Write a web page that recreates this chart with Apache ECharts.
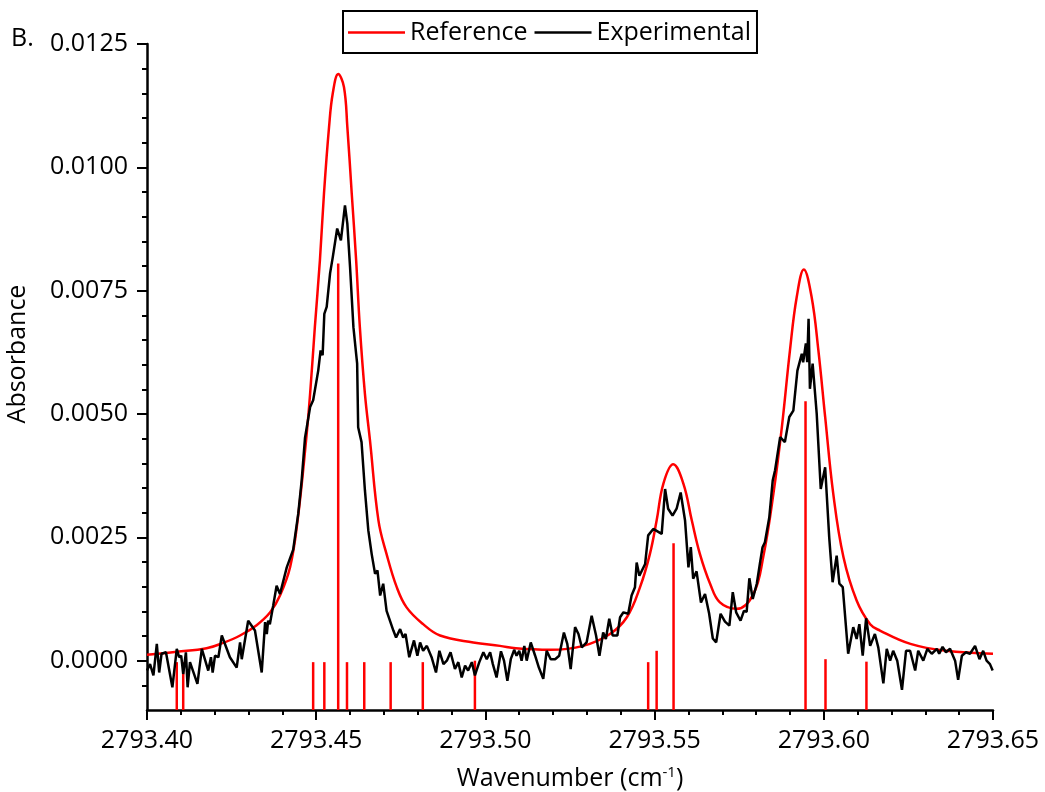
<!DOCTYPE html>
<html>
<head>
<meta charset="utf-8">
<script src="https://cdn.jsdelivr.net/npm/echarts@6/dist/echarts.min.js"></script>
<style>
html,body{margin:0;padding:0;background:#fff;}
#chart{width:1045px;height:792px;}
</style>
</head>
<body>
<div id="chart"></div>
<script>
// ---- Data ----
const xTicks = [2793.40, 2793.45, 2793.50, 2793.55, 2793.60, 2793.65];
const xMinorTicks = [2793.41, 2793.42, 2793.43, 2793.44, 2793.46, 2793.47, 2793.48, 2793.49,
  2793.51, 2793.52, 2793.53, 2793.54, 2793.56, 2793.57, 2793.58, 2793.59,
  2793.61, 2793.62, 2793.63, 2793.64];
const yTicks = [0.0000, 0.0025, 0.0050, 0.0075, 0.0100, 0.0125];
const yMinorTicks = [-0.0005, 0.0005, 0.0010, 0.0015, 0.0020, 0.0030, 0.0035, 0.0040, 0.0045,
  0.0055, 0.0060, 0.0065, 0.0070, 0.0080, 0.0085, 0.0090, 0.0095,
  0.0105, 0.0110, 0.0115, 0.0120];

// Reference (simulated) spectrum [wavenumber, absorbance]
const referenceCurve = [
  [2793.4000, 0.00012], [2793.4088, 0.00018], [2793.4176, 0.00025], [2793.4225, 0.00036],
  [2793.4275, 0.00051], [2793.4324, 0.00072], [2793.4364, 0.00098], [2793.4393, 0.00132],
  [2793.4423, 0.00190], [2793.4445, 0.00284], [2793.4470, 0.00446], [2793.4482, 0.00541],
  [2793.4496, 0.00676], [2793.4511, 0.00812], [2793.4523, 0.00947], [2793.4538, 0.01082],
  [2793.4549, 0.01150], [2793.4565, 0.01189], [2793.4582, 0.01163], [2793.4592, 0.01082],
  [2793.4605, 0.00947], [2793.4618, 0.00812], [2793.4629, 0.00676], [2793.4644, 0.00541],
  [2793.4659, 0.00446], [2793.4684, 0.00284], [2793.4708, 0.00216], [2793.4738, 0.00149],
  [2793.4767, 0.00108], [2793.4816, 0.00074], [2793.4866, 0.00051], [2793.4964, 0.00037],
  [2793.5043, 0.00030], [2793.5090, 0.00025], [2793.5191, 0.00022], [2793.5289, 0.00030],
  [2793.5368, 0.00054], [2793.5418, 0.00088], [2793.5457, 0.00149], [2793.5486, 0.00216],
  [2793.5506, 0.00284], [2793.5526, 0.00359], [2793.5555, 0.00398], [2793.5585, 0.00359],
  [2793.5610, 0.00284], [2793.5634, 0.00216], [2793.5664, 0.00156], [2793.5693, 0.00118],
  [2793.5743, 0.00105], [2793.5792, 0.00135], [2793.5821, 0.00210], [2793.5851, 0.00338],
  [2793.5876, 0.00473], [2793.5900, 0.00629], [2793.5920, 0.00737], [2793.5941, 0.00793],
  [2793.5964, 0.00737], [2793.5984, 0.00629], [2793.6004, 0.00494], [2793.6028, 0.00338],
  [2793.6058, 0.00210], [2793.6097, 0.00122], [2793.6137, 0.00074], [2793.6166, 0.00061],
  [2793.6256, 0.00034], [2793.6361, 0.00020], [2793.6500, 0.00014]
];

// Experimental spectrum [wavenumber, absorbance]
const experimentalCurve = [
  [2793.4000, -0.00020], [2793.4009, -0.00007], [2793.4019, -0.00030], [2793.4029, 0.00034],
  [2793.4036, -0.00024], [2793.4043, 0.00014], [2793.4056, 0.00017], [2793.4075, -0.00054],
  [2793.4088, 0.00024], [2793.4095, 0.00007], [2793.4101, 0.00010], [2793.4107, -0.00027],
  [2793.4115, 0.00017], [2793.4120, -0.00054], [2793.4127, -0.00003], [2793.4149, -0.00047],
  [2793.4162, 0.00024], [2793.4181, -0.00020], [2793.4189, 0.00007], [2793.4194, -0.00024],
  [2793.4201, 0.00010], [2793.4211, 0.00007], [2793.4221, 0.00051], [2793.4245, 0.00007],
  [2793.4265, -0.00014], [2793.4275, 0.00037], [2793.4280, 0.00003], [2793.4299, 0.00081],
  [2793.4319, 0.00061], [2793.4339, -0.00024], [2793.4349, 0.00078], [2793.4354, 0.00054],
  [2793.4358, 0.00081], [2793.4363, 0.00074], [2793.4373, 0.00112], [2793.4383, 0.00152],
  [2793.4393, 0.00135], [2793.4413, 0.00189], [2793.4432, 0.00225], [2793.4447, 0.00298],
  [2793.4457, 0.00365], [2793.4467, 0.00452], [2793.4482, 0.00514], [2793.4491, 0.00528],
  [2793.4506, 0.00588], [2793.4513, 0.00629], [2793.4519, 0.00619], [2793.4524, 0.00703],
  [2793.4531, 0.00717], [2793.4541, 0.00785], [2793.4549, 0.00818], [2793.4562, 0.00876],
  [2793.4573, 0.00852], [2793.4585, 0.00923], [2793.4592, 0.00886], [2793.4600, 0.00798],
  [2793.4610, 0.00676], [2793.4618, 0.00622], [2793.4621, 0.00602], [2793.4624, 0.00473],
  [2793.4634, 0.00443], [2793.4644, 0.00345], [2793.4654, 0.00264], [2793.4664, 0.00216],
  [2793.4674, 0.00176], [2793.4681, 0.00183], [2793.4689, 0.00132], [2793.4698, 0.00156],
  [2793.4708, 0.00101], [2793.4728, 0.00061], [2793.4736, 0.00047], [2793.4748, 0.00064],
  [2793.4757, 0.00047], [2793.4764, 0.00054], [2793.4775, 0.00007], [2793.4789, 0.00041],
  [2793.4799, 0.00010], [2793.4807, 0.00037], [2793.4816, 0.00020], [2793.4827, 0.00030],
  [2793.4841, 0.00007], [2793.4854, -0.00024], [2793.4864, 0.00020], [2793.4876, -0.00007],
  [2793.4886, 0.00000], [2793.4897, 0.00017], [2793.4910, -0.00017], [2793.4920, -0.00003],
  [2793.4930, -0.00034], [2793.4940, -0.00010], [2793.4949, -0.00020], [2793.4960, -0.00003],
  [2793.4969, -0.00030], [2793.4982, -0.00003], [2793.4994, 0.00017], [2793.5004, 0.00003],
  [2793.5014, 0.00017], [2793.5022, -0.00007], [2793.5033, -0.00034], [2793.5046, 0.00019],
  [2793.5055, 0.00000], [2793.5065, -0.00041], [2793.5075, 0.00003], [2793.5085, 0.00022],
  [2793.5092, 0.00010], [2793.5100, 0.00020], [2793.5107, 0.00000], [2793.5115, 0.00030],
  [2793.5122, 0.00000], [2793.5134, 0.00037], [2793.5147, 0.00010], [2793.5158, -0.00014],
  [2793.5171, -0.00037], [2793.5181, 0.00020], [2793.5193, 0.00003], [2793.5206, 0.00003],
  [2793.5218, 0.00010], [2793.5232, 0.00057], [2793.5242, 0.00034], [2793.5252, -0.00017],
  [2793.5265, 0.00068], [2793.5275, 0.00054], [2793.5285, 0.00027], [2793.5299, 0.00037],
  [2793.5314, 0.00091], [2793.5327, 0.00051], [2793.5337, 0.00010], [2793.5348, 0.00057],
  [2793.5356, 0.00044], [2793.5366, 0.00085], [2793.5376, 0.00051], [2793.5390, 0.00051],
  [2793.5398, 0.00088], [2793.5408, 0.00098], [2793.5422, 0.00095], [2793.5432, 0.00132],
  [2793.5442, 0.00149], [2793.5447, 0.00199], [2793.5455, 0.00172], [2793.5472, 0.00196],
  [2793.5481, 0.00254], [2793.5496, 0.00267], [2793.5521, 0.00257], [2793.5531, 0.00348],
  [2793.5540, 0.00308], [2793.5553, 0.00294], [2793.5565, 0.00308], [2793.5577, 0.00341],
  [2793.5590, 0.00284], [2793.5600, 0.00189], [2793.5607, 0.00230], [2793.5614, 0.00166],
  [2793.5624, 0.00181], [2793.5637, 0.00118], [2793.5649, 0.00135], [2793.5661, 0.00096],
  [2793.5672, 0.00045], [2793.5682, 0.00037], [2793.5695, 0.00095], [2793.5708, 0.00079],
  [2793.5721, 0.00071], [2793.5731, 0.00139], [2793.5741, 0.00098], [2793.5754, 0.00081],
  [2793.5764, 0.00101], [2793.5772, 0.00099], [2793.5780, 0.00167], [2793.5790, 0.00125],
  [2793.5802, 0.00156], [2793.5811, 0.00196], [2793.5819, 0.00230], [2793.5826, 0.00240],
  [2793.5839, 0.00291], [2793.5849, 0.00365], [2793.5856, 0.00386], [2793.5871, 0.00453],
  [2793.5885, 0.00443], [2793.5898, 0.00494], [2793.5910, 0.00507], [2793.5922, 0.00588],
  [2793.5935, 0.00622], [2793.5939, 0.00605], [2793.5947, 0.00643], [2793.5951, 0.00605],
  [2793.5955, 0.00693], [2793.5959, 0.00551], [2793.5967, 0.00602], [2793.5979, 0.00501],
  [2793.5991, 0.00348], [2793.6004, 0.00392], [2793.6016, 0.00250], [2793.6026, 0.00159],
  [2793.6038, 0.00213], [2793.6046, 0.00156], [2793.6056, 0.00149], [2793.6072, 0.00014],
  [2793.6087, 0.00068], [2793.6097, 0.00044], [2793.6105, 0.00074], [2793.6115, 0.00010],
  [2793.6125, 0.00086], [2793.6137, 0.00030], [2793.6151, 0.00054], [2793.6161, 0.00027],
  [2793.6176, -0.00046], [2793.6186, 0.00024], [2793.6196, 0.00000], [2793.6205, 0.00020],
  [2793.6217, 0.00000], [2793.6231, -0.00059], [2793.6243, 0.00020], [2793.6255, 0.00020],
  [2793.6270, -0.00020], [2793.6279, 0.00020], [2793.6294, 0.00000], [2793.6306, 0.00024],
  [2793.6319, 0.00014], [2793.6334, 0.00024], [2793.6341, 0.00014], [2793.6351, 0.00028],
  [2793.6361, 0.00017], [2793.6373, 0.00024], [2793.6388, 0.00000], [2793.6397, -0.00039],
  [2793.6408, 0.00010], [2793.6420, 0.00017], [2793.6432, 0.00014], [2793.6447, 0.00030],
  [2793.6460, 0.00003], [2793.6471, 0.00020], [2793.6481, 0.00000], [2793.6491, -0.00007],
  [2793.6499, -0.00020]
];

// Stick transitions: positions and top values
const stickPositions = [2793.4088, 2793.4107, 2793.4491, 2793.4524, 2793.4565, 2793.4591,
  2793.4642, 2793.4720, 2793.4815, 2793.4969, 2793.5481, 2793.5506, 2793.5556,
  2793.5946, 2793.6005, 2793.6126];
const stickTops = [-0.00003, -0.00003, -0.00003, -0.00003, 0.00805, -0.00003,
  -0.00003, -0.00003, -0.00003, 0.00000, -0.00003, 0.00020, 0.00238,
  0.00526, 0.00003, -0.00002];

const X_MIN = 2793.40, X_MAX = 2793.65;
const Y_MIN = -0.001, Y_MAX = 0.0125;

// ---- Chart ----
const FONT = 'Open Sans';
const FS = 25;
const chart = echarts.init(document.getElementById('chart'), null, {renderer: 'canvas'});
const stickData = stickPositions.map((p, i) => [p, stickTops[i]]);

chart.setOption({
  animation: false,
  backgroundColor: '#ffffff',
  grid: {left: 147, right: 52, top: 44, bottom: 82, containLabel: false, outerBoundsMode: 'none'},
  legend: {
    data: ['Reference', 'Experimental'],
    left: 343, top: 11,
    orient: 'horizontal',
    icon: 'rect',
    itemWidth: 57, itemHeight: 2.5,
    itemGap: 7,
    borderColor: '#000', borderWidth: 2,
    padding: [8, 6, 7, 5],
    textStyle: {fontFamily: FONT, fontSize: FS, color: '#000', lineHeight: 27}
  },
  xAxis: [
    {
      type: 'value', min: X_MIN, max: X_MAX, position: 'bottom',
      axisLine: {show: true, onZero: false, lineStyle: {color: '#000', width: 2.5}},
      axisTick: {show: true, inside: false, length: 10, lineStyle: {color: '#000', width: 2}, customValues: xTicks},
      axisLabel: {show: true, customValues: xTicks, margin: 18, color: '#000', fontFamily: FONT, fontSize: FS,
        formatter: v => v.toFixed(2)},
      splitLine: {show: false},
      name: 'Wavenumber (cm{sup|-1})',
      nameLocation: 'middle', nameGap: 55,
      nameTextStyle: {fontFamily: FONT, fontSize: FS, color: '#000',
        rich: {sup: {fontFamily: FONT, fontSize: 15, verticalAlign: 'top', padding: [0, 0, 12, 0]}}}
    },
    {
      type: 'value', min: X_MIN, max: X_MAX, position: 'bottom', offset: 0,
      axisLine: {show: false, onZero: false},
      axisTick: {show: true, inside: false, length: 5, lineStyle: {color: '#000', width: 2}, customValues: xMinorTicks},
      axisLabel: {show: false},
      splitLine: {show: false}
    }
  ],
  yAxis: [
    {
      type: 'value', min: Y_MIN, max: Y_MAX, position: 'left',
      axisLine: {show: true, onZero: false, lineStyle: {color: '#000', width: 2.5}},
      axisTick: {show: true, inside: false, length: 10, lineStyle: {color: '#000', width: 2}, customValues: yTicks},
      axisLabel: {show: true, customValues: yTicks, margin: 19, color: '#000', fontFamily: FONT, fontSize: FS,
        formatter: v => v.toFixed(4)},
      splitLine: {show: false}
    },
    {
      type: 'value', min: Y_MIN, max: Y_MAX, position: 'left', offset: 0,
      axisLine: {show: false, onZero: false},
      axisTick: {show: true, inside: false, length: 5, lineStyle: {color: '#000', width: 2}, customValues: yMinorTicks},
      axisLabel: {show: false},
      splitLine: {show: false}
    }
  ],
  graphic: [
    {type: 'text', x: 18, y: 354, rotation: Math.PI / 2,
      style: {text: 'Absorbance', font: FS + 'px "Open Sans"', fill: '#000', align: 'center', verticalAlign: 'middle'}},
    {type: 'text', x: 11, y: 39,
      style: {text: 'B.', font: FS + 'px "Open Sans"', fill: '#000', align: 'left', verticalAlign: 'middle'}}
  ],
  series: [
    {
      name: 'Reference', type: 'line', xAxisIndex: 0, yAxisIndex: 0,
      data: referenceCurve, smooth: 0.4, showSymbol: false, symbol: 'none',
      lineStyle: {color: '#ff0000', width: 2.5}, itemStyle: {color: '#ff0000'}, z: 2
    },
    {
      name: 'Sticks', type: 'custom', xAxisIndex: 0, yAxisIndex: 0,
      data: stickData, z: 3,
      renderItem: (params, api) => {
        const p0 = api.coord([api.value(0), Y_MIN]);
        const p1 = api.coord([api.value(0), api.value(1)]);
        return {type: 'line', shape: {x1: p0[0], y1: p0[1], x2: p1[0], y2: p1[1]},
          style: {stroke: '#ff0000', lineWidth: 2.5}};
      }
    },
    {
      name: 'Experimental', type: 'line', xAxisIndex: 0, yAxisIndex: 0,
      data: experimentalCurve, smooth: false, showSymbol: false, symbol: 'none',
      lineStyle: {color: '#000000', width: 2.5}, itemStyle: {color: '#000000'}, z: 4
    }
  ]
});
</script>
</body>
</html>
